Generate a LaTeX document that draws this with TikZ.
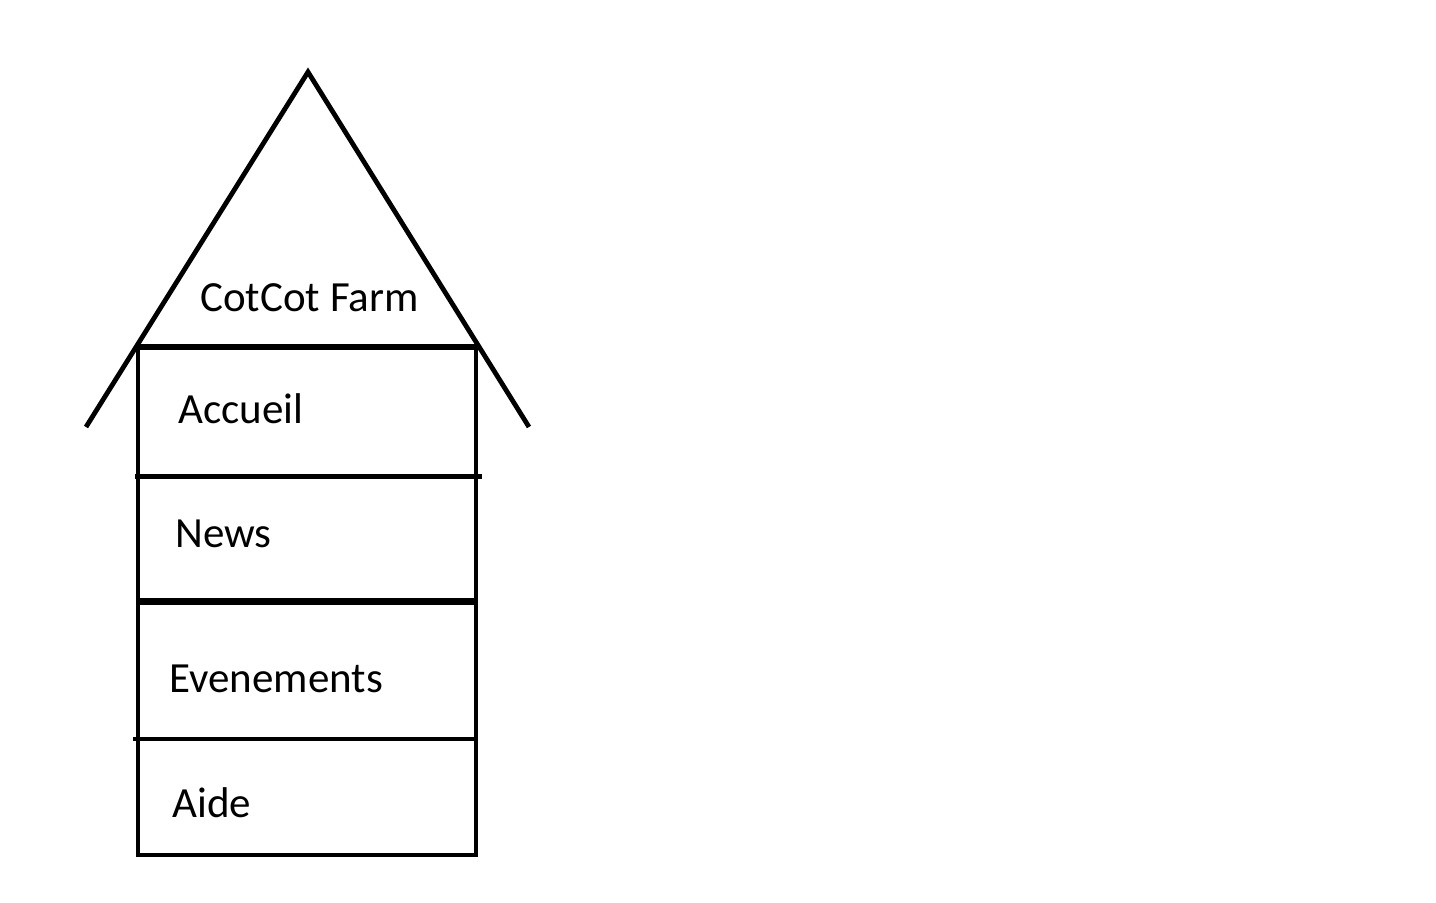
\documentclass[tikz,border=0pt]{standalone}
\usepackage{fontspec}
\setmainfont{Carlito}
\begin{document}
\begin{tikzpicture}[x=0.5pt,y=-0.5pt]
\tikzset{every node/.style={anchor=base west,inner sep=0pt,
                            font=\fontsize{21.5}{26}\selectfont}}
\tikzset{wall/.style={line width=2.4pt}}
%\tikzset{wall/.style={line width=2pt,line cap=round}}
\useasboundingbox (0,0) rectangle (1436,903);
% roof
\coordinate (apex) at (308,72);
\coordinate (eaveL) at (86,427);
\coordinate (eaveR) at (529,427);
\draw[wall] (eaveL) -- (apex) -- (eaveR);
% house
\draw[wall] (138,347) rectangle (476,855);
\draw[line width=2.8pt] (138,347) -- (477,347);
\draw[line width=2.5pt] (135,477) -- (482,477);
\draw[line width=3.5pt] (138,602) -- (476,602);
\draw[wall] (133,739) -- (474,739);
% labels
\node (title) at (200,312) {CotCot Farm};
\node (accueil) at (178,424) {Accueil};
\node (news) at (175,548) {News};
\node (events) at (169,692) {Evenements};
\node (aide) at (172,817) {Aide};
\end{tikzpicture}
\end{document}
